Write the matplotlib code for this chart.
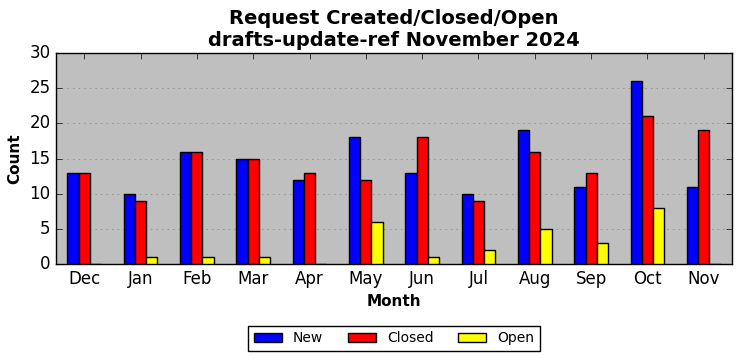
import matplotlib
matplotlib.use("Agg")
import matplotlib.pyplot as plt
import numpy as np

months = ["Dec", "Jan", "Feb", "Mar", "Apr", "May", "Jun", "Jul", "Aug", "Sep", "Oct", "Nov"]
new = [13, 10, 16, 15, 12, 18, 13, 10, 19, 11, 26, 11]
closed = [13, 9, 16, 15, 13, 12, 18, 9, 16, 13, 21, 19]
open_ = [0, 1, 1, 1, 0, 6, 1, 2, 5, 3, 8, 0]

plt.style.use("classic")
fig = plt.figure(figsize=(7.42, 3.61), dpi=100)
fig.patch.set_facecolor("white")
ax = fig.add_axes([0.0755, 0.2687, 0.911, 0.5843])
ax.set_facecolor("#bfbfbf")

x = np.arange(len(months))
w = 0.2
ax.bar(x - w, new, w, color="blue", edgecolor="black", label="New", zorder=3)
ax.bar(x, closed, w, color="red", edgecolor="black", label="Closed", zorder=3)
ax.bar(x + w, open_, w, color="yellow", edgecolor="black", label="Open", zorder=3)

ax.set_xlim(-0.5, len(months) - 0.5)
ax.set_ylim(0, 30)
ax.set_xticks(x)
ax.set_xticklabels(months, fontsize=12)
ax.set_yticks(range(0, 31, 5))
ax.tick_params(axis="y", labelsize=12)
ax.grid(True, axis="y", linestyle=":", color="#808080", zorder=0)
ax.set_axisbelow(True)
ax.set_xlabel("Month", fontsize=11, fontweight="bold")
ax.set_ylabel("Count", fontsize=11, fontweight="bold")
ax.set_title("Request Created/Closed/Open\ndrafts-update-ref November 2024", fontsize=14, fontweight="bold")

ax.legend(loc="upper center", bbox_to_anchor=(0.5, -0.26), ncol=3, fontsize=10,
          frameon=True, fancybox=False, columnspacing=1.8)

fig.savefig("out.png", dpi=100)
